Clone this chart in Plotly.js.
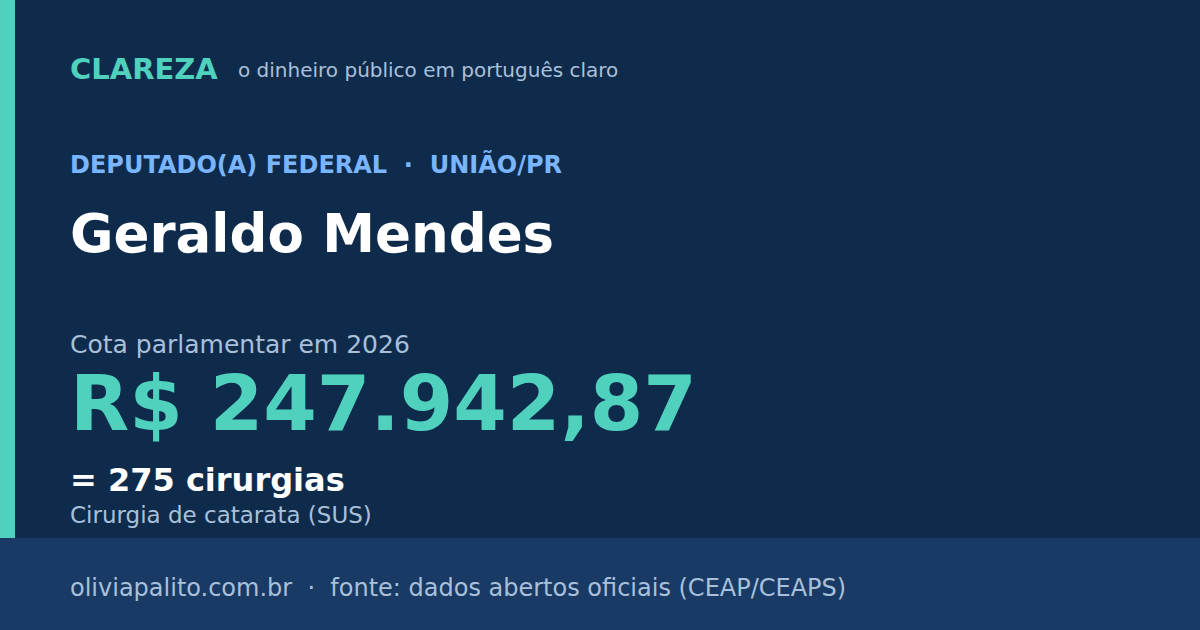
<!DOCTYPE html>
<html><head><meta charset="utf-8">
<script src="https://cdn.plot.ly/plotly-3.0.1.min.js"></script>
<style>html,body{margin:0;padding:0;background:#0f2b4c;}#chart{width:1200px;height:630px;}</style>
</head><body><div id="chart"></div>
<script>
// Card content
const brand = "CLAREZA";
const tagline = "o dinheiro público em português claro";
const roleLabel = "DEPUTADO(A) FEDERAL  ·  UNIÃO/PR";
const personName = "Geraldo Mendes";
const periodLabel = "Cota parlamentar em 2026";
const amountValue = 247942.87;
const equivCount = 275;
const equivUnit = "cirurgias";
const equivLabel = "Cirurgia de catarata (SUS)";
const footerText = "oliviapalito.com.br  ·  fonte: dados abertos oficiais (CEAP/CEAPS)";

function fmtBRL(v){
  const parts = v.toFixed(2).split(".");
  const int = parts[0].replace(/\B(?=(\d{3})+(?!\d))/g, ".");
  return "R$ " + int + "," + parts[1];
}
function keepSpaces(s){ return s.replace(/  /g, "\u00a0\u00a0"); }

const F = "DejaVu Sans, sans-serif";
const teal = "#4fd1be", gray = "#a9c0db", blue = "#7ab6ff";

function ann(text, x, y, size, color, bold){
  text = keepSpaces(text);
  return {text: bold ? "<b>"+text+"</b>" : text, x: x, y: y, xref:"x", yref:"y",
    xanchor:"left", yanchor:"middle", showarrow:false,
    font:{family:F, size:size, color:color}};
}

const layout = {
  width:1200, height:630,
  margin:{l:0,r:0,t:0,b:0},
  paper_bgcolor:"#0f2b4c", plot_bgcolor:"#0f2b4c",
  xaxis:{range:[0,1200], visible:false, fixedrange:true},
  yaxis:{range:[630,0], visible:false, fixedrange:true},
  showlegend:false,
  shapes:[
    {type:"rect", xref:"x", yref:"y", x0:0, x1:1200, y0:538, y1:630, fillcolor:"#183a65", line:{width:0}, layer:"below"},
    {type:"rect", xref:"x", yref:"y", x0:0, x1:15, y0:0, y1:538, fillcolor:teal, line:{width:0}, layer:"below"}
  ],
  annotations:[
    ann(brand, 68, 69, 29, teal, true),
    ann(tagline, 236, 70, 20, gray, false),
    ann(roleLabel, 68, 164, 24, blue, true),
    ann(personName, 68, 233, 53, "#ffffff", true),
    ann(periodLabel, 68, 344, 25, gray, false),
    ann(fmtBRL(amountValue), 68, 403, 77, teal, true),
    ann("= " + equivCount + " " + equivUnit, 68, 480, 32, "#ffffff", true),
    ann(equivLabel, 68, 515, 23, gray, false),
    ann(footerText, 68, 588, 24, gray, false)
  ]
};

Plotly.newPlot("chart", [{x:[], y:[], type:"scatter", mode:"markers", hoverinfo:"skip"}], layout, {staticPlot:true, displayModeBar:false});
</script></body></html>
